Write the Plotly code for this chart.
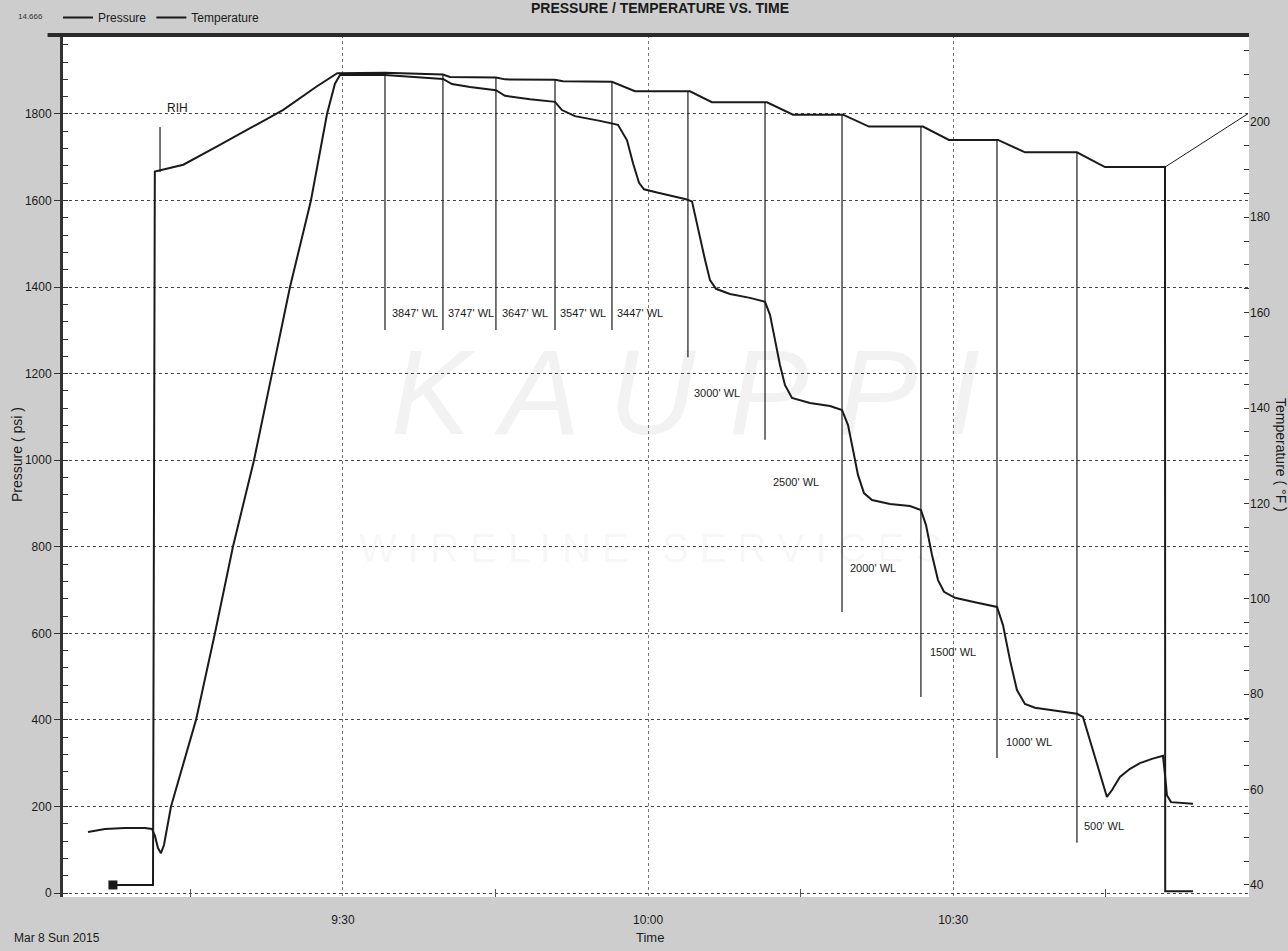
import plotly.graph_objects as go
from datetime import datetime, timedelta

BASE = datetime(2015, 3, 8, 9, 0, 0)

# ---- Pressure trace (minutes after 09:00, psi) ----
pres_min = [4.93, 6.60, 8.56, 10.53, 11.22, 11.51, 11.81, 12.10, 12.40, 12.79, 13.09, 15.55, 17.41,
            19.18, 21.25, 23.02, 24.79, 26.85, 28.43, 29.21, 29.71, 34.13, 35.60, 39.83, 40.72,
            42.49, 45.04, 45.93, 48.39, 50.85, 51.53, 52.81, 55.27, 56.45, 57.04, 57.93, 58.52,
            59.11, 59.60, 60.78, 63.73, 64.32, 64.61, 65.10, 65.60, 66.09, 66.68, 68.05, 70.02,
            71.50, 71.99, 72.48, 72.97, 73.46, 74.15, 75.92, 77.89, 79.07, 79.66, 80.15, 80.64,
            81.23, 82.02, 83.79, 85.75, 86.83, 87.33, 87.92, 88.51, 89.10, 90.18, 92.14, 94.31,
            94.90, 95.59, 96.27, 97.06, 98.04, 100.01, 102.17, 102.76, 103.45, 104.14, 104.73,
            105.12, 105.62, 106.40, 107.39, 108.37, 109.55, 110.63, 110.83, 111.02, 111.42,
            112.30, 113.58]
pres_psi = [141, 148, 150, 150, 148, 132, 104, 92, 111, 164, 200, 400, 600,
            800, 1000, 1200, 1400, 1600, 1800, 1870, 1890, 1890, 1888, 1881, 1869,
            1862, 1855, 1842, 1834, 1828, 1809, 1795, 1784, 1777, 1775, 1739, 1686,
            1641, 1626, 1619, 1603, 1598, 1566, 1520, 1463, 1416, 1396, 1384, 1375,
            1366, 1336, 1278, 1220, 1174, 1144, 1132, 1125, 1116, 1081, 1024, 966,
            924, 908, 899, 894, 885, 850, 781, 723, 696, 682, 672, 661,
            619, 538, 469, 437, 428, 421, 414, 407, 354, 296, 250,
            222, 238, 268, 287, 300, 310, 317, 273, 226, 210,
            208, 206]

# ---- Temperature trace (minutes after 09:00, deg F) ----
temp_min = [7.38, 11.32, 11.50, 14.30, 17.58, 20.86, 24.13, 27.41, 29.05, 29.44, 34.13, 39.83,
            40.52, 45.04, 45.93, 50.85, 51.63, 56.45, 58.71, 64.12, 66.28, 71.69, 74.25, 79.17,
            81.72, 87.03, 89.59, 94.41, 97.06, 102.17, 104.93, 110.83, 110.85, 113.58]
temp_degf = [40.0, 40.0, 189.6, 191.0, 194.8, 198.7, 202.5, 207.4, 209.8, 210.2, 210.3, 209.9,
             209.4, 209.3, 208.9, 208.8, 208.5, 208.4, 206.4, 206.4, 204.1, 204.1, 201.5, 201.5,
             199.0, 199.0, 196.2, 196.2, 193.6, 193.6, 190.5, 190.5, 38.7, 38.7]

# ---- Wireline stop markers ----
stop_labels = ["3847' WL", "3747' WL", "3647' WL", "3547' WL", "3447' WL",
               "3000' WL", "2500' WL", "2000' WL", "1500' WL", "1000' WL", "500' WL"]
stop_min = [34.13, 39.83, 45.04, 50.85, 56.45, 63.92, 71.50, 79.07, 86.83, 94.31, 102.17]
stop_top_psi = [1895, 1890, 1885, 1881, 1876, 1852, 1827, 1798, 1771, 1740, 1711]
stop_bottom_psi = [1301, 1301, 1301, 1301, 1301, 1238, 1047, 649, 453, 312, 116]
stop_label_min = [34.62, 40.13, 45.44, 51.14, 56.74, 64.32, 72.08, 79.66, 87.52, 95.0, 102.66]
stop_label_psi = [1340, 1340, 1340, 1340, 1340, 1155, 950, 751, 557, 349, 155]

rih_min = 12.01
rih_psi = [1666, 1770]
rih_label = ("RIH", 12.5, 1814)

exit_min = [110.83, 118.99]
exit_degf = [190.5, 201.7]

x_range_min = [2.47, 119.09]
p_range = [-9.2, 1982.4]
t_range = [37.48, 218.2]


def ts(m):
    return BASE + timedelta(minutes=m)


NARROW = "Liberation Sans Narrow, Arial Narrow, Liberation Sans, Arial, sans-serif"
REG = "Liberation Sans, Arial, sans-serif"
INK = "#1a1a1a"

fig = go.Figure()

fig.add_trace(go.Scatter(x=[ts(m) for m in pres_min], y=pres_psi, name="Pressure",
                         mode="lines", line=dict(color=INK, width=2), yaxis="y"))
fig.add_trace(go.Scatter(x=[ts(m) for m in temp_min], y=temp_degf, name="Temperature",
                         mode="lines", line=dict(color=INK, width=2), yaxis="y2"))
fig.add_trace(go.Scatter(x=[ts(temp_min[0])], y=[temp_degf[0]], mode="markers",
                         marker=dict(symbol="square", size=9, color=INK),
                         showlegend=False, yaxis="y2", hoverinfo="skip"))
fig.add_trace(go.Scatter(x=[ts(m) for m in exit_min], y=exit_degf, mode="lines",
                         line=dict(color=INK, width=1), showlegend=False, yaxis="y2",
                         hoverinfo="skip"))

shapes = []
annotations = []
for lab, m, top, bot, lm, lp in zip(stop_labels, stop_min, stop_top_psi, stop_bottom_psi,
                                    stop_label_min, stop_label_psi):
    shapes.append(dict(type="line", xref="x", yref="y", x0=ts(m), x1=ts(m), y0=bot, y1=top,
                       line=dict(color=INK, width=1.2)))
    annotations.append(dict(x=ts(lm), y=lp, xref="x", yref="y", text=lab, showarrow=False,
                            xanchor="left", yanchor="middle",
                            font=dict(family=NARROW, size=11, color=INK)))

shapes.append(dict(type="line", xref="x", yref="y", x0=ts(rih_min), x1=ts(rih_min),
                   y0=rih_psi[0], y1=rih_psi[1], line=dict(color=INK, width=1.2)))
annotations.append(dict(x=ts(rih_label[1]), y=rih_label[2], xref="x", yref="y", text=rih_label[0],
                        showarrow=False, xanchor="left", yanchor="middle",
                        font=dict(family=NARROW, size=12, color=INK)))

# top border
shapes.append(dict(type="line", xref="paper", yref="paper", x0=-0.013, x1=1, y0=1, y1=1,
                   line=dict(color="#2a2a2a", width=4)))

W, H, L, T = 1186, 862, 63, 35


def px(xp):
    return (xp - L) / W


def py(yp):
    return (T + H - yp) / H


# watermark (faint, behind the data)
annotations.append(dict(x=px(685), y=py(392), xref="paper", yref="paper", text="<i>K A U P P I</i>",
                        showarrow=False, font=dict(family=REG, size=120, color="rgba(0,0,0,0.05)")))
annotations.append(dict(x=px(650), y=py(548), xref="paper", yref="paper", text="W I R E L I N E   S E R V I C E S",
                        showarrow=False, font=dict(family=REG, size=40, color="rgba(0,0,0,0.05)")))

# title
annotations.append(dict(x=px(660), y=py(18), xref="paper", yref="paper",
                        text="<b>PRESSURE / TEMPERATURE VS. TIME</b>", showarrow=False,
                        xanchor="center", yanchor="bottom",
                        font=dict(family=REG, size=14, color=INK)))
annotations.append(dict(x=px(16), y=py(17), xref="paper", yref="paper", text="14.666",
                        showarrow=False, xanchor="left", yanchor="middle",
                        font=dict(family=NARROW, size=8, color="#333")))
annotations.append(dict(x=px(12), y=py(938), xref="paper", yref="paper", text="Mar 8 Sun 2015",
                        showarrow=False, xanchor="left", yanchor="middle",
                        font=dict(family=NARROW, size=12, color=INK)))
annotations.append(dict(x=px(650), y=py(938), xref="paper", yref="paper", text="Time",
                        showarrow=False, xanchor="center", yanchor="middle",
                        font=dict(family=NARROW, size=13, color=INK)))
annotations.append(dict(x=px(17), y=py(455), xref="paper", yref="paper", text="Pressure ( psi )",
                        showarrow=False, textangle=-90, xanchor="center", yanchor="middle",
                        font=dict(family=REG, size=14, color=INK)))
annotations.append(dict(x=px(1281), y=py(455), xref="paper", yref="paper", text="Temperature ( °F )",
                        showarrow=False, textangle=90, xanchor="center", yanchor="middle",
                        font=dict(family=REG, size=14, color=INK)))

fig.update_layout(
    width=1288, height=951,
    margin=dict(l=L, r=1288 - L - W, t=T, b=951 - T - H, autoexpand=False),
    paper_bgcolor="#cdcdcd", plot_bgcolor="white",
    font=dict(family=NARROW, size=12, color=INK),
    showlegend=True,
    legend=dict(orientation="h", x=px(58), y=py(3), xanchor="left", yanchor="top",
                bgcolor="rgba(0,0,0,0)", font=dict(family=NARROW, size=12, color=INK),
                itemwidth=30),
    shapes=shapes, annotations=annotations,
    xaxis=dict(type="date", range=[ts(x_range_min[0]), ts(x_range_min[1])],
               tick0=BASE, dtick=30 * 60 * 1000, tickformat="%-H:%M",
               showgrid=True, gridcolor="#777", griddash="dot", gridwidth=1,
               ticks="", ticklabelstandoff=14, showline=False, zeroline=False,
               minor=dict(dtick=15 * 60 * 1000, tick0=BASE, ticks="inside", ticklen=8,
                          tickcolor="#555", showgrid=False),
               tickfont=dict(family=NARROW, size=12, color=INK)),
    yaxis=dict(range=p_range, tickvals=[0, 200, 400, 600, 800, 1000, 1200, 1400, 1600, 1800],
               showgrid=True, gridcolor="#444", griddash="dot", gridwidth=1, zeroline=False,
               ticks="outside", ticklen=6, tickcolor="#333", showline=True, linecolor="#333",
               linewidth=3, tickfont=dict(family=NARROW, size=12, color=INK),
               minor=dict(dtick=40, tick0=0, ticks="inside", ticklen=5, tickcolor="#333",
                          showgrid=False)),
    yaxis2=dict(range=t_range, overlaying="y", side="right",
                tickvals=[40, 60, 80, 100, 120, 140, 160, 180, 200], tickprefix="- ",
                showgrid=False, zeroline=False, ticks="inside", ticklen=5, tickcolor="#333",
                showline=False, tickfont=dict(family=NARROW, size=12, color=INK),
                minor=dict(dtick=5, tick0=40, ticks="inside", ticklen=5, tickcolor="#333")),
)

fig.write_html("out.html", config={"displayModeBar": False},
               post_script="document.body.style.margin='0';document.body.style.overflow='hidden';")
